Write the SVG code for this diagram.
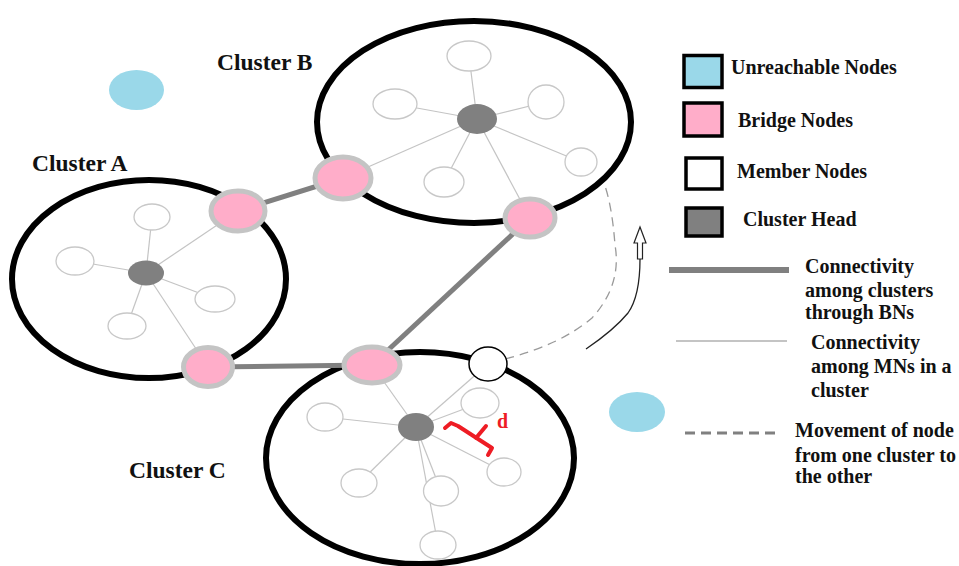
<svg xmlns="http://www.w3.org/2000/svg" width="959" height="566" viewBox="0 0 959 566">
  <defs>
    <style>
      .lbl { font-family: "Liberation Serif", "Times New Roman", serif; font-weight: bold; fill: #111; }
      .cl { font-size: 23.5px; }
      .lg { font-size: 20px; }
      .cluster { fill: #fff; stroke: #000; stroke-width: 6; }
      .mn { fill: #fff; stroke: #c8c8c8; stroke-width: 1.3; }
      .ch { fill: #808080; }
      .bn { fill: #ffadc9; stroke: #c4c4c4; stroke-width: 5; }
      .un { fill: #9ad8e9; }
      .ln { stroke: #c4c4c4; stroke-width: 1.2; fill: none; }
      .bl { stroke: #808080; stroke-width: 5; fill: none; }
      .mv { stroke: #9a9a9a; stroke-width: 1.3; fill: none; stroke-dasharray: 9 6; }
      .box { stroke: #000; stroke-width: 3.5; }
    </style>
  </defs>

  <!-- cluster outlines -->
  <g id="cluster-a-outline"><ellipse class="cluster" cx="149" cy="279" rx="137" ry="99"/></g>
  <g id="cluster-b-outline"><ellipse class="cluster" cx="474" cy="122" rx="157" ry="101"/></g>
  <g id="cluster-c-outline"><ellipse class="cluster" cx="420" cy="458" rx="154" ry="106"/></g>

  <!-- connectors -->
  <g id="connectors">
    <!-- cluster A links -->
    <line class="ln" x1="146" y1="273" x2="152" y2="217"/>
    <line class="ln" x1="146" y1="273" x2="75" y2="261"/>
    <line class="ln" x1="146" y1="273" x2="215" y2="299"/>
    <line class="ln" x1="146" y1="273" x2="127" y2="326"/>
    <line class="ln" x1="146" y1="273" x2="238" y2="211"/>
    <line class="ln" x1="146" y1="273" x2="208" y2="367"/>
    <!-- cluster B links -->
    <line class="ln" x1="477" y1="119" x2="469" y2="56"/>
    <line class="ln" x1="477" y1="119" x2="395" y2="104"/>
    <line class="ln" x1="477" y1="119" x2="546" y2="102"/>
    <line class="ln" x1="477" y1="119" x2="581" y2="162"/>
    <line class="ln" x1="477" y1="119" x2="444" y2="182"/>
    <line class="ln" x1="477" y1="119" x2="343" y2="178"/>
    <line class="ln" x1="477" y1="119" x2="530" y2="218"/>
    <!-- cluster C links -->
    <line class="ln" x1="416" y1="427" x2="372" y2="365"/>
    <line class="ln" x1="416" y1="427" x2="488" y2="364" stroke="#999"/>
    <line class="ln" x1="416" y1="427" x2="480" y2="403"/>
    <line class="ln" x1="416" y1="427" x2="325" y2="417"/>
    <line class="ln" x1="416" y1="427" x2="359" y2="483"/>
    <line class="ln" x1="416" y1="427" x2="441" y2="491"/>
    <line class="ln" x1="416" y1="427" x2="504" y2="472"/>
    <line class="ln" x1="416" y1="427" x2="438" y2="545"/>
    <!-- bridge links between clusters -->
    <line class="bl" x1="238" y1="211" x2="343" y2="178"/>
    <line class="bl" x1="530" y1="218" x2="372" y2="365"/>
    <line class="bl" x1="208" y1="367" x2="372" y2="365"/>
    <!-- path of the moving node -->
    <path class="mv" d="M505 359 Q 560 345 592 318 Q 622 285 615 245 Q 612 205 604 183"/>
    <!-- direction of movement -->
    <path d="M586 349 Q 614 330 628 313 Q 640 296 640 259" fill="none" stroke="#222" stroke-width="1.3"/>
    <path d="M637.5 259 L637.5 243 L634 243 L640 227 L646 243 L642.5 243 L642.5 259 Z" fill="#fff" stroke="#222" stroke-width="1.2"/>
  </g>

  <!-- cluster A -->
  <g id="cluster-a">
    <ellipse class="mn" cx="152" cy="217" rx="18" ry="13"/>
    <ellipse class="mn" cx="75" cy="261" rx="19" ry="14"/>
    <ellipse class="mn" cx="215" cy="299" rx="20" ry="13"/>
    <ellipse class="mn" cx="127" cy="326" rx="19" ry="13"/>
    <ellipse class="ch" cx="146" cy="273" rx="18" ry="12.5"/>
    <ellipse class="bn" cx="238" cy="211" rx="27" ry="20"/>
    <ellipse class="bn" cx="208" cy="367" rx="24.5" ry="19.5"/>
  </g>

  <!-- cluster B -->
  <g id="cluster-b">
    <ellipse class="mn" cx="469" cy="56" rx="22" ry="15"/>
    <ellipse class="mn" cx="395" cy="104" rx="22" ry="15"/>
    <ellipse class="mn" cx="546" cy="102" rx="18" ry="17"/>
    <ellipse class="mn" cx="581" cy="162" rx="16" ry="14"/>
    <ellipse class="mn" cx="444" cy="182" rx="20" ry="15"/>
    <ellipse class="ch" cx="477" cy="119" rx="20" ry="15"/>
    <ellipse class="bn" cx="343" cy="178" rx="28" ry="21"/>
    <ellipse class="bn" cx="530" cy="218" rx="25" ry="19"/>
  </g>

  <!-- cluster C -->
  <g id="cluster-c">
    <ellipse class="mn" cx="480" cy="403" rx="19" ry="15"/>
    <ellipse class="mn" cx="325" cy="417" rx="18" ry="14"/>
    <ellipse class="mn" cx="359" cy="483" rx="18" ry="14"/>
    <ellipse class="mn" cx="441" cy="491" rx="17.5" ry="15"/>
    <ellipse class="mn" cx="504" cy="472" rx="17" ry="14"/>
    <ellipse class="mn" cx="438" cy="545" rx="18" ry="14"/>
    <ellipse class="ch" cx="416" cy="427" rx="18" ry="14"/>
    <ellipse class="bn" cx="372" cy="365" rx="28" ry="18"/>
    <!-- member node leaving the cluster -->
    <ellipse cx="488" cy="364" rx="19" ry="17" fill="#fff" stroke="#000" stroke-width="1.5"/>
  </g>

  <!-- distance marker -->
  <g id="distance">
    <path d="M445 428 L451 423 L458 426 L492 448 L488 455 M476 438 L486 426" fill="none" stroke="#ee1c24" stroke-width="4" stroke-linecap="round" stroke-linejoin="round"/>
    <text x="497" y="428" font-family="Liberation Serif, serif" font-weight="bold" font-size="20" fill="#ee1c24">d</text>
  </g>

  <!-- unreachable nodes -->
  <g id="unreachable-1"><ellipse class="un" cx="136.5" cy="90" rx="27.5" ry="20"/></g>
  <g id="unreachable-2"><ellipse class="un" cx="637" cy="412" rx="28" ry="20"/></g>

  <!-- cluster labels -->
  <g id="labels">
    <text class="lbl cl" x="217" y="70">Cluster B</text>
    <text class="lbl cl" x="32" y="171">Cluster A</text>
    <text class="lbl cl" x="129" y="478">Cluster C</text>
  </g>

  <!-- legend -->
  <g id="legend">
    <rect class="box" x="684" y="55.5" width="38" height="32" fill="#9ad8e9"/>
    <text class="lbl lg" x="731" y="74">Unreachable Nodes</text>
    <rect class="box" x="684" y="103" width="38" height="33" fill="#ffadc9"/>
    <text class="lbl lg" x="738" y="127">Bridge Nodes</text>
    <rect class="box" x="686" y="158" width="36" height="31" fill="#fff"/>
    <text class="lbl lg" x="737" y="178">Member Nodes</text>
    <rect class="box" x="686" y="208" width="36" height="28" fill="#808080"/>
    <text class="lbl lg" x="743" y="226">Cluster Head</text>

    <line x1="669" y1="270" x2="789" y2="270" stroke="#808080" stroke-width="6"/>
    <text class="lbl lg" x="805" y="273">Connectivity</text>
    <text class="lbl lg" x="805" y="297">among clusters</text>
    <text class="lbl lg" x="805" y="319">through BNs</text>

    <line x1="676" y1="341" x2="787" y2="341" stroke="#c4c4c4" stroke-width="2"/>
    <text class="lbl lg" x="811" y="349">Connectivity</text>
    <text class="lbl lg" x="811" y="373">among MNs in a</text>
    <text class="lbl lg" x="811" y="397">cluster</text>

    <line x1="685" y1="433" x2="775" y2="433" stroke="#808080" stroke-width="3" stroke-dasharray="10 6"/>
    <text class="lbl lg" x="795" y="437">Movement of node</text>
    <text class="lbl lg" x="795" y="462">from one cluster to</text>
    <text class="lbl lg" x="795" y="483">the other</text>
  </g>
</svg>
